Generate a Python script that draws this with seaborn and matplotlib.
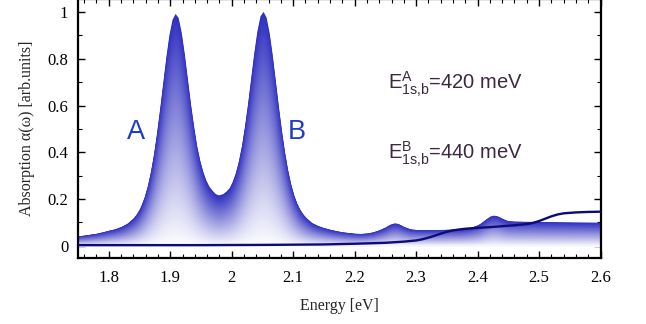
import numpy as np
import matplotlib
matplotlib.use('Agg')
import matplotlib.pyplot as plt
import seaborn as sns
from matplotlib.ticker import MultipleLocator, FuncFormatter
from matplotlib.colors import to_rgb

# ---- data ----
energy_abs = [1.75, 1.76, 1.77, 1.78, 1.79, 1.80, 1.81, 1.82, 1.83, 1.84, 1.845, 1.85,
              1.853, 1.858, 1.863, 1.868, 1.873, 1.878, 1.883, 1.888, 1.893, 1.898, 1.903,
              1.908, 1.913, 1.918, 1.923, 1.928, 1.933, 1.938, 1.943, 1.948, 1.953, 1.958,
              1.963, 1.968, 1.973, 1.978,
              1.981, 1.986, 1.991, 1.996, 2.001, 2.006, 2.011, 2.016, 2.021, 2.026, 2.031,
              2.036, 2.041, 2.046, 2.051, 2.056, 2.061, 2.066, 2.071, 2.076, 2.081, 2.086,
              2.091, 2.096, 2.101, 2.106, 2.111, 2.116, 2.121,
              2.13, 2.14, 2.15, 2.16, 2.17, 2.18, 2.19, 2.20, 2.21, 2.22, 2.23, 2.24, 2.25,
              2.255, 2.26, 2.265, 2.27, 2.275, 2.28, 2.29, 2.30, 2.31, 2.32, 2.33, 2.34,
              2.35, 2.36, 2.37, 2.38, 2.39, 2.40, 2.405, 2.41, 2.415, 2.42, 2.425, 2.43,
              2.435, 2.44, 2.445, 2.45, 2.46, 2.48, 2.50, 2.53, 2.56, 2.60]
absorption = [0.043, 0.046, 0.050, 0.054, 0.060, 0.067, 0.073, 0.083, 0.097, 0.120, 0.137, 0.159,
              0.177, 0.212, 0.259, 0.320, 0.395, 0.487, 0.590, 0.700, 0.809, 0.904, 0.969,
              0.994, 0.976, 0.912, 0.820, 0.713, 0.607, 0.513, 0.429, 0.367, 0.318, 0.281,
              0.255, 0.238, 0.224, 0.218,
              0.219, 0.224, 0.235, 0.249, 0.276, 0.313, 0.364, 0.430, 0.514, 0.611, 0.719,
              0.826, 0.918, 0.983, 1.003, 0.978, 0.911, 0.816, 0.707, 0.596, 0.493, 0.402,
              0.326, 0.265, 0.218, 0.182, 0.156, 0.136, 0.121,
              0.100, 0.087, 0.078, 0.071, 0.065, 0.060, 0.057, 0.054, 0.053, 0.055, 0.060, 0.069, 0.081,
              0.089, 0.095, 0.098, 0.096, 0.090, 0.083, 0.073, 0.070, 0.069, 0.069, 0.069, 0.070,
              0.071, 0.072, 0.073, 0.076, 0.081, 0.090, 0.098, 0.108, 0.118, 0.127, 0.131, 0.130,
              0.125, 0.118, 0.112, 0.108, 0.106, 0.105, 0.104, 0.103, 0.102, 0.101]

energy_cont = [1.75, 1.85, 1.95, 2.05, 2.10, 2.15, 2.20, 2.25, 2.28, 2.30, 2.31, 2.32, 2.33,
               2.34, 2.35, 2.36, 2.37, 2.38, 2.40, 2.42, 2.44, 2.46, 2.48, 2.49, 2.50, 2.51,
               2.52, 2.53, 2.54, 2.56, 2.58, 2.60]
continuum = [0.003, 0.003, 0.003, 0.004, 0.005, 0.006, 0.009, 0.013, 0.018, 0.023, 0.028, 0.035,
             0.043, 0.052, 0.060, 0.066, 0.070, 0.073, 0.077, 0.080, 0.084, 0.088, 0.093, 0.098,
             0.106, 0.116, 0.126, 0.134, 0.139, 0.143, 0.145, 0.146]

peak_labels = ['A', 'B']
peak_label_x = [1.845, 2.1066]
peak_label_y = [0.457, 0.457]

binding_texts = [r'$\mathsf{E}^{\mathsf{A}}_{\mathsf{1s{,}b}}$=420 meV',
                 r'$\mathsf{E}^{\mathsf{B}}_{\mathsf{1s{,}b}}$=440 meV']
binding_x = [2.2536, 2.2536]
binding_y = [0.669, 0.370]

# ---- style ----
sns.set_theme(style='ticks')
plt.rcParams['font.family'] = ['Liberation Serif', 'DejaVu Serif']
plt.rcParams['mathtext.fontset'] = 'custom'
plt.rcParams['mathtext.rm'] = 'Liberation Sans'
plt.rcParams['mathtext.it'] = 'Liberation Sans:italic'
plt.rcParams['mathtext.sf'] = 'Liberation Sans'

fig = plt.figure(figsize=(6.46, 3.24), dpi=100)
ax = fig.add_axes([78 / 646, 66 / 324, (600.5 - 78) / 646, 259 / 324])
ax.set_facecolor('white')

# gradient fill built from scaled copies of the absorption curve
x = np.array(energy_abs)
y = np.array(absorption)
top_col = np.array(to_rgb('#3030c0'))
white = np.ones(3)
N = 90
for k in range(N, 0, -1):
    t = k / N
    c = white + (top_col - white) * t
    ax.fill_between(x, 0, y * t, color=c, linewidth=0, zorder=1)

sns.lineplot(x=energy_cont, y=continuum, color='#0c0c78', linewidth=1.7, ax=ax, zorder=3)

for lab, lx, ly in zip(peak_labels, peak_label_x, peak_label_y):
    ax.text(lx, ly, lab, fontsize=19.5, color='#1f3cc8', family=['Liberation Sans'],
            ha='center', va='baseline', zorder=4)
for txt, tx, ty in zip(binding_texts, binding_x, binding_y):
    ax.text(tx, ty, txt, fontsize=14.5, color='#3b2a3f', family=['Liberation Sans'],
            ha='left', va='baseline', zorder=4)

ax.set_xlim(1.75, 2.6)
ax.set_ylim(-0.052, 1.0556)
ax.xaxis.set_major_locator(MultipleLocator(0.1))
ax.xaxis.set_minor_locator(MultipleLocator(0.02))
ax.yaxis.set_major_locator(MultipleLocator(0.2))
ax.yaxis.set_minor_locator(MultipleLocator(0.1))
fmt = FuncFormatter(lambda v, p: f'{v:g}')
ax.xaxis.set_major_formatter(fmt)
ax.yaxis.set_major_formatter(fmt)

ax.tick_params(which='both', direction='in', top=True, right=True, colors='black',
               labelsize=12)
ax.tick_params(which='major', length=5, width=1.0)
ax.tick_params(which='minor', length=3, width=0.8)
ax.tick_params(axis='y', pad=7)
ax.tick_params(axis='x', pad=9)
for s in ax.spines.values():
    s.set_linewidth(1.6)
    s.set_color('black')
    s.set_visible(True)

ax.set_xlabel('Energy [eV]', fontsize=11.5, labelpad=8)
ax.set_ylabel('Absorption α(ω) [arb.units]', fontsize=11.5, labelpad=9)

fig.savefig('out.png', dpi=100)
